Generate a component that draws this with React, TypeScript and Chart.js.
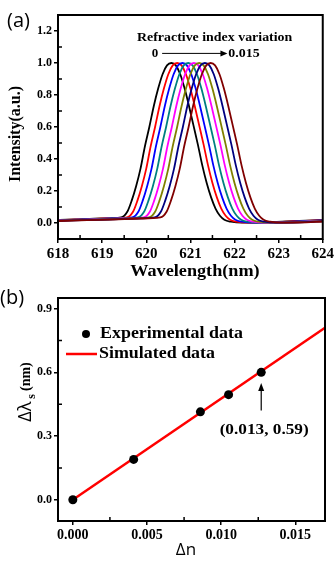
import React, { useEffect, useRef } from 'react';
import { Chart, registerables } from 'chart.js';
Chart.register(...registerables);

// ---------- data (a) ----------
const wavelengthMin = 618;
const wavelengthMax = 624;
const wavelengthTicks = [618, 619, 620, 621, 622, 623, 624];
const wavelengthMinorTicks = [618.5, 619.5, 620.5, 621.5, 622.5, 623.5];
const intensityMin = -0.1;
const intensityMax = 1.3;
const intensityTicks = [0, 0.2, 0.4, 0.6, 0.8, 1.0, 1.2];
const intensityMinorTicks = [0.1, 0.3, 0.5, 0.7, 0.9, 1.1];
const peakWavelengths = [620.57, 620.7, 620.82, 620.95, 621.08, 621.2, 621.33, 621.46];
const curveColors = ['#000000', '#ff0000', '#0000ff', '#008080', '#ff00ff', '#808000', '#000080', '#800000'];
// spectral profile: offset from the peak (nm) and intensity
const profileOffsets = [-3.5, -2.8, -2.2, -1.6, -1.14, -1.0, -0.9, -0.8, -0.7, -0.6, -0.5, -0.4, -0.3, -0.2, -0.1, 0, 0.1, 0.2, 0.3, 0.4, 0.5, 0.6, 0.7, 0.8, 0.9, 1.0, 1.1, 1.2, 1.35, 1.6, 2.0, 2.6, 3.5];
const profileIntensity = [0.012, 0.018, 0.022, 0.028, 0.035, 0.07, 0.14, 0.23, 0.34, 0.48, 0.6, 0.73, 0.84, 0.93, 0.985, 1.0, 0.985, 0.93, 0.84, 0.73, 0.61, 0.49, 0.36, 0.25, 0.16, 0.09, 0.045, 0.02, 0.008, 0.002, 0.003, 0.01, 0.02];

// ---------- data (b) ----------
const deltaNMin = -0.001;
const deltaNMax = 0.017;
const deltaNTicks = [0, 0.005, 0.01, 0.015];
const deltaNMinorTicks = [0.0025, 0.0075, 0.0125];
const shiftMin = -0.1;
const shiftMax = 0.95;
const shiftTicks = [0, 0.3, 0.6, 0.9];
const shiftMinorTicks = [0.15, 0.45, 0.75];
const expDeltaN = [0, 0.0041, 0.0086, 0.0105, 0.0127];
const expShift = [0, 0.19, 0.414, 0.495, 0.6];
const simDeltaN = [0, 0.017];
const simShift = [0, 0.81];
const calloutLabel = '(0.013, 0.59)';

const SERIF = '"Liberation Serif", "Times New Roman", serif';
const SANS = '"Open Sans", "DejaVu Sans", sans-serif';

Chart.defaults.font.family = 'Liberation Serif';
Chart.defaults.font.weight = 'bold' as any;
Chart.defaults.color = '#000';

// draw text stretched horizontally by factor sx
function stretchText(ctx: any, text: string, x: number, y: number, sx: number) {
  ctx.save();
  ctx.translate(x, y);
  ctx.scale(sx, 1);
  ctx.fillText(text, 0, 0);
  ctx.restore();
}

function framePlugin(xMinor: number[], yMinor: number[]) {
  return {
    id: 'frameMinor',
    afterDatasetsDraw(chart: any) {
      const { ctx, chartArea: a, scales } = chart;
      ctx.save();
      ctx.strokeStyle = '#000';
      ctx.lineWidth = 1.5;
      ctx.beginPath();
      xMinor.forEach((v) => {
        const p = scales.x.getPixelForValue(v);
        ctx.moveTo(p, a.bottom);
        ctx.lineTo(p, a.bottom - 4);
      });
      yMinor.forEach((v) => {
        const p = scales.y.getPixelForValue(v);
        ctx.moveTo(a.left, p);
        ctx.lineTo(a.left + 4, p);
      });
      ctx.stroke();
      ctx.lineWidth = 2;
      ctx.strokeRect(a.left, a.top, a.right - a.left, a.bottom - a.top);
      ctx.restore();
    },
  };
}

function arrowHead(ctx: any, x: number, y: number, dir: 'right' | 'up') {
  ctx.beginPath();
  if (dir === 'right') {
    ctx.moveTo(x, y);
    ctx.lineTo(x - 7, y - 3);
    ctx.lineTo(x - 7, y + 3);
  } else {
    ctx.moveTo(x, y);
    ctx.lineTo(x - 3, y + 8);
    ctx.lineTo(x + 3, y + 8);
  }
  ctx.closePath();
  ctx.fill();
}

const textPluginA = {
  id: 'textA',
  afterDraw(chart: any) {
    const { ctx, scales } = chart;
    const X = (v: number) => scales.x.getPixelForValue(v);
    const Y = (v: number) => scales.y.getPixelForValue(v);
    ctx.save();
    ctx.fillStyle = '#000';
    ctx.strokeStyle = '#000';
    ctx.font = `20px ${SANS}`;
    ctx.textAlign = 'left';
    ctx.textBaseline = 'middle';
    ctx.fillText('(a)', 7, 21);
    ctx.font = `bold 17px ${SERIF}`;
    ctx.textAlign = 'center';
    stretchText(ctx, 'Wavelength(nm)', 195, 272, 1.07);
    ctx.save();
    ctx.translate(16, 134);
    ctx.rotate(-Math.PI / 2);
    ctx.font = `bold 16px ${SERIF}`;
    ctx.fillText('Intensity(a.u.)', 0, 0);
    ctx.restore();
    ctx.font = `bold 13px ${SERIF}`;
    ctx.textAlign = 'center';
    stretchText(ctx, 'Refractive index variation', X(621.55), Y(1.16), 1.07);
    const ay = Y(1.06);
    ctx.fillText('0', X(620.2), ay);
    ctx.textAlign = 'left';
    stretchText(ctx, '0.015', X(621.86), ay, 1.07);
    ctx.lineWidth = 1;
    ctx.beginPath();
    ctx.moveTo(X(620.36), ay);
    ctx.lineTo(X(621.8), ay);
    ctx.stroke();
    arrowHead(ctx, X(621.84), ay, 'right');
    ctx.restore();
  },
};

const textPluginB = {
  id: 'textB',
  afterDraw(chart: any) {
    const { ctx, scales } = chart;
    const X = (v: number) => scales.x.getPixelForValue(v);
    const Y = (v: number) => scales.y.getPixelForValue(v);
    ctx.save();
    ctx.fillStyle = '#000';
    ctx.strokeStyle = '#000';
    ctx.font = `20px ${SANS}`;
    ctx.textAlign = 'left';
    ctx.textBaseline = 'middle';
    ctx.fillText('(b)', 0, 13);
    ctx.font = `17px ${SANS}`;
    ctx.textAlign = 'center';
    ctx.fillText('\u0394n', 186, 265);
    ctx.save();
    ctx.translate(25, 107);
    ctx.rotate(-Math.PI / 2);
    ctx.textAlign = 'left';
    ctx.textBaseline = 'alphabetic';
    const f1 = `18px ${SANS}`;
    const f2 = `bold 12px ${SERIF}`;
    const f3 = `bold 14px ${SERIF}`;
    ctx.font = f1;
    const w1 = ctx.measureText('\u0394\u03bb').width;
    ctx.font = f2;
    const w2 = ctx.measureText('s').width;
    ctx.font = f3;
    const w3 = ctx.measureText('(nm)').width;
    let x = -(w1 + 3 + w2 + 3 + w3) / 2;
    ctx.font = f1;
    ctx.fillText('\u0394\u03bb', x, 6);
    x += w1 + 3;
    ctx.font = f2;
    ctx.fillText('s', x, 10);
    x += w2 + 3;
    ctx.font = f3;
    ctx.fillText('(nm)', x, 5);
    ctx.restore();
    ctx.textAlign = 'left';
    ctx.textBaseline = 'middle';
    ctx.font = `bold 16px ${SERIF}`;
    ctx.beginPath();
    ctx.arc(86, 49, 4, 0, Math.PI * 2);
    ctx.fill();
    stretchText(ctx, 'Experimental data', 100, 49, 1.12);
    ctx.strokeStyle = '#ff0000';
    ctx.lineWidth = 2.5;
    ctx.beginPath();
    ctx.moveTo(66, 69);
    ctx.lineTo(97, 69);
    ctx.stroke();
    stretchText(ctx, 'Simulated data', 99, 69, 1.12);
    ctx.strokeStyle = '#000';
    ctx.lineWidth = 1.2;
    const px = X(expDeltaN[expDeltaN.length - 1]);
    ctx.beginPath();
    ctx.moveTo(px, Y(0.42));
    ctx.lineTo(px, Y(0.53));
    ctx.stroke();
    arrowHead(ctx, px, Y(0.55), 'up');
    ctx.font = `bold 15px ${SERIF}`;
    ctx.textAlign = 'center';
    stretchText(ctx, calloutLabel, X(0.0129), Y(0.33), 1.15);
    ctx.restore();
  },
};

function axisCommon(fontSize: number, ticksArr: number[], fmt: (v: number) => string, isX: boolean, fitSize: number, pad: number) {
  return {
    type: 'linear',
    afterBuildTicks: (s: any) => {
      s.ticks = ticksArr.map((v) => ({ value: v }));
    },
    afterFit: (s: any) => {
      if (isX) s.height = fitSize;
      else s.width = fitSize;
    },
    ticks: {
      color: '#000',
      font: { family: 'Liberation Serif', size: fontSize, weight: 'bold' },
      padding: pad,
      autoSkip: false,
      maxRotation: 0,
      minRotation: 0,
      callback: (v: any) => fmt(Number(v)),
    },
    grid: { drawOnChartArea: false, drawTicks: true, tickLength: 4, color: '#000', lineWidth: 1.5 },
    border: { display: false },
  };
}

export default function App() {
  const refA = useRef<HTMLCanvasElement>(null);
  const refB = useRef<HTMLCanvasElement>(null);

  useEffect(() => {
    const chartA = new Chart(refA.current as HTMLCanvasElement, {
      type: 'line',
      data: {
        datasets: peakWavelengths.map((pk, i) => ({
          data: profileOffsets.map((o, j) => ({ x: pk + o, y: profileIntensity[j] })),
          borderColor: curveColors[i],
          borderWidth: 1.8,
          pointRadius: 0,
          fill: false,
          cubicInterpolationMode: 'monotone',
          order: peakWavelengths.length - i,
        })),
      },
      options: {
        animation: false,
        responsive: false,
        devicePixelRatio: 1,
        layout: { padding: { top: 15, right: 11, left: 0, bottom: 0 } },
        plugins: { legend: { display: false }, tooltip: { enabled: false } },
        scales: {
          x: { ...axisCommon(15, wavelengthTicks, (v) => String(v), true, 46, 2), min: wavelengthMin, max: wavelengthMax },
          y: { ...axisCommon(12, intensityTicks, (v) => v.toFixed(1), false, 58, 2), min: intensityMin, max: intensityMax },
        },
      } as any,
      plugins: [framePlugin(wavelengthMinorTicks, intensityMinorTicks), textPluginA],
    } as any);

    const chartB = new Chart(refB.current as HTMLCanvasElement, {
      type: 'scatter',
      data: {
        datasets: [
          {
            type: 'scatter',
            data: expDeltaN.map((x, i) => ({ x, y: expShift[i] })),
            pointRadius: 4.5,
            pointBackgroundColor: '#000',
            pointBorderColor: '#000',
            pointBorderWidth: 0,
          },
          {
            type: 'line',
            data: simDeltaN.map((x, i) => ({ x, y: simShift[i] })),
            borderColor: '#ff0000',
            borderWidth: 2.5,
            pointRadius: 0,
            fill: false,
          },
        ],
      },
      options: {
        animation: false,
        responsive: false,
        devicePixelRatio: 1,
        layout: { padding: { top: 13, right: 11, left: 0, bottom: 0 } },
        plugins: { legend: { display: false }, tooltip: { enabled: false } },
        scales: {
          x: { ...axisCommon(14, deltaNTicks, (v) => v.toFixed(3), true, 40, 2), min: deltaNMin, max: deltaNMax },
          y: { ...axisCommon(12, shiftTicks, (v) => v.toFixed(1), false, 58, 2), min: shiftMin, max: shiftMax },
        },
      } as any,
      plugins: [framePlugin(deltaNMinorTicks, shiftMinorTicks), textPluginB],
    } as any);

    return () => {
      chartA.destroy();
      chartB.destroy();
    };
  }, []);

  return (
    <div style={{ position: 'absolute', left: 0, top: 0, width: 336, height: 561, background: '#fff' }}>
      <canvas ref={refA} width={336} height={285} style={{ position: 'absolute', left: 0, top: 0, width: 336, height: 285 }} />
      <canvas ref={refB} width={336} height={276} style={{ position: 'absolute', left: 0, top: 285, width: 336, height: 276 }} />
    </div>
  );
}
